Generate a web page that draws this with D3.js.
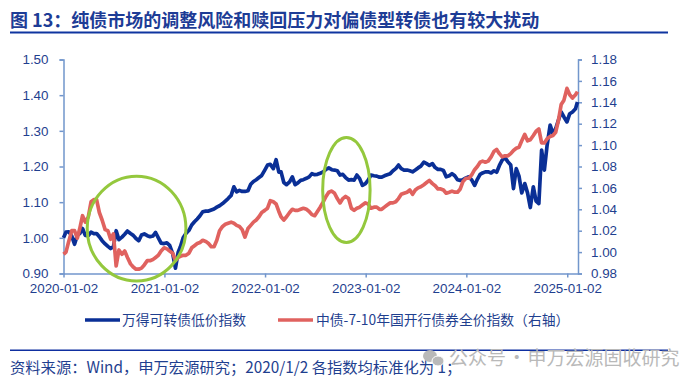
<!DOCTYPE html>
<html lang="zh">
<head>
<meta charset="UTF-8">
<title>图 13</title>
<script src="https://cdnjs.cloudflare.com/ajax/libs/d3/7.8.5/d3.min.js"></script>
<style>
    body { margin: 0; background: #fff; }
    svg { display: block; }
    .cjk { font-family: "Noto Sans CJK SC", sans-serif; }
    .tick text { font-family: "Liberation Sans", Arial, sans-serif; font-size: 13.4px; fill: #1f3f8f; }
    .axis path, .axis line { stroke: #7296cc; stroke-width: 1.5; }
</style>
</head>
<body>
<svg id="chart" width="700" height="386"></svg>
<script>
// Values, every ten days or so
const dates = [
"2020-01-02","2020-01-11","2020-01-21","2020-02-01","2020-02-11","2020-02-21","2020-03-01","2020-03-11","2020-03-21","2020-04-01","2020-04-11","2020-04-21",
"2020-05-01","2020-05-11","2020-05-21","2020-06-01","2020-06-11","2020-06-21","2020-07-01","2020-07-11","2020-07-21","2020-08-01","2020-08-11","2020-08-21",
"2020-09-01","2020-09-11","2020-09-21","2020-10-01","2020-10-11","2020-10-21","2020-11-01","2020-11-11","2020-11-21","2020-12-01","2020-12-11","2020-12-21",
"2021-01-01","2021-01-11","2021-01-21","2021-02-01","2021-02-11","2021-02-21","2021-03-01","2021-03-11","2021-03-21","2021-04-01","2021-04-11","2021-04-21",
"2021-05-01","2021-05-11","2021-05-21","2021-06-01","2021-06-11","2021-06-21","2021-07-01","2021-07-11","2021-07-21","2021-08-01","2021-08-11","2021-08-21",
"2021-09-01","2021-09-11","2021-09-21","2021-10-01","2021-10-11","2021-10-21","2021-11-01","2021-11-11","2021-11-21","2021-12-01","2021-12-11","2021-12-21",
"2022-01-01","2022-01-11","2022-01-21","2022-02-01","2022-02-11","2022-02-21","2022-03-01","2022-03-11","2022-03-21","2022-04-01","2022-04-11","2022-04-21",
"2022-05-01","2022-05-11","2022-05-21","2022-06-01","2022-06-11","2022-06-21","2022-07-01","2022-07-11","2022-07-21","2022-08-01","2022-08-11","2022-08-21",
"2022-09-01","2022-09-11","2022-09-21","2022-10-01","2022-10-11","2022-10-21","2022-11-01","2022-11-11","2022-11-21","2022-12-01","2022-12-11","2022-12-21",
"2023-01-01","2023-01-11","2023-01-21","2023-02-01","2023-02-11","2023-02-21","2023-03-01","2023-03-11","2023-03-21","2023-04-01","2023-04-11","2023-04-21",
"2023-05-01","2023-05-11","2023-05-21","2023-06-01","2023-06-11","2023-06-21","2023-07-01","2023-07-11","2023-07-21","2023-08-01","2023-08-11","2023-08-21",
"2023-09-01","2023-09-11","2023-09-21","2023-10-01","2023-10-11","2023-10-21","2023-11-01","2023-11-11","2023-11-21","2023-12-01","2023-12-11","2023-12-21",
"2024-01-01","2024-01-11","2024-01-21","2024-02-01","2024-02-11","2024-02-21","2024-03-01","2024-03-11","2024-03-21","2024-04-01","2024-04-11","2024-04-21",
"2024-05-01","2024-05-11","2024-05-21","2024-06-01","2024-06-11","2024-06-21","2024-07-01","2024-07-11","2024-07-21","2024-08-01","2024-08-11","2024-08-21",
"2024-09-01","2024-09-11","2024-09-21","2024-10-01","2024-10-11","2024-10-21","2024-11-01","2024-11-11","2024-11-21","2024-12-01","2024-12-11","2024-12-21",
"2025-01-01","2025-01-11","2025-01-21","2025-02-01","2025-02-08"
];

const lowPriceIndex = [
1.000,1.016,1.017,1.005,0.982,1.007,1.012,1.026,1.007,1.006,1.016,1.012,
1.012,1.003,0.992,0.983,0.976,0.970,0.975,1.020,0.995,1.002,1.010,1.019,
1.012,1.007,0.998,0.992,1.008,1.011,1.006,1.003,1.005,1.015,1.000,0.985,
0.984,0.986,0.979,0.956,0.915,0.960,0.975,1.000,1.012,1.021,1.036,1.045,
1.053,1.062,1.073,1.075,1.075,1.078,1.081,1.086,1.090,1.096,1.103,1.110,
1.119,1.143,1.129,1.133,1.130,1.130,1.132,1.150,1.158,1.163,1.169,1.175,
1.190,1.204,1.206,1.194,1.219,1.184,1.185,1.155,1.149,1.157,1.171,1.149,
1.154,1.161,1.163,1.167,1.171,1.180,1.177,1.178,1.181,1.185,1.192,1.196,
1.191,1.190,1.188,1.176,1.178,1.169,1.162,1.163,1.162,1.176,1.166,1.147,
1.152,1.162,1.176,1.174,1.173,1.170,1.170,1.174,1.177,1.180,1.188,1.194,
1.204,1.194,1.190,1.190,1.188,1.185,1.190,1.196,1.201,1.212,1.208,1.203,
1.208,1.197,1.192,1.192,1.189,1.171,1.174,1.180,1.174,1.163,1.161,1.163,
1.168,1.171,1.163,1.147,1.164,1.178,1.182,1.185,1.185,1.182,1.188,1.184,
1.203,1.218,1.225,1.213,1.204,1.138,1.194,1.173,1.126,1.152,1.126,1.085,
1.143,1.103,1.096,1.246,1.190,1.260,1.316,1.292,1.306,1.330,1.353,1.339,
1.325,1.348,1.353,1.362,1.381
];

const cdbIndex = [
0.998,1.000,1.010,1.020,1.020,1.013,1.022,1.034,1.028,1.033,1.047,1.049,
1.049,1.037,1.030,1.021,1.020,1.012,1.017,0.987,1.002,0.998,1.001,0.995,
0.989,0.986,0.984,0.984,0.985,0.988,0.992,0.992,0.993,0.995,0.997,1.001,
1.004,1.003,1.001,0.999,0.992,0.995,0.996,0.997,0.997,0.999,1.004,1.006,
1.008,1.009,1.011,1.010,1.008,1.005,1.005,1.011,1.020,1.024,1.026,1.027,
1.028,1.027,1.025,1.024,1.021,1.014,1.022,1.025,1.028,1.030,1.033,1.037,
1.039,1.041,1.048,1.047,1.045,1.038,1.033,1.030,1.033,1.037,1.040,1.039,
1.039,1.040,1.041,1.040,1.038,1.035,1.034,1.038,1.042,1.047,1.052,1.056,
1.057,1.055,1.050,1.046,1.050,1.052,1.050,1.041,1.039,1.041,1.042,1.044,
1.046,1.045,1.041,1.042,1.042,1.040,1.040,1.042,1.044,1.046,1.046,1.047,
1.050,1.054,1.055,1.056,1.058,1.054,1.058,1.060,1.061,1.063,1.065,1.067,
1.064,1.062,1.059,1.059,1.058,1.055,1.056,1.057,1.056,1.056,1.059,1.066,
1.069,1.069,1.072,1.077,1.080,1.084,1.085,1.084,1.085,1.089,1.094,1.096,
1.092,1.089,1.090,1.090,1.092,1.095,1.097,1.098,1.104,1.110,1.104,1.105,
1.109,1.113,1.115,1.102,1.102,1.106,1.108,1.109,1.112,1.123,1.138,1.142,
1.153,1.147,1.144,1.147,1.150
];

const leftTicks = [0.9, 1.0, 1.1, 1.2, 1.3, 1.4, 1.5];
const rightTicks = [0.98, 1.0, 1.02, 1.04, 1.06, 1.08, 1.1, 1.12, 1.14, 1.16, 1.18];
const xTicks = ["2020-01-02", "2021-01-02", "2022-01-02", "2023-01-02", "2024-01-02", "2025-01-02"];

// Hand-drawn green rings, as date span and left-axis value span
const ringDates = [["2020-03-28", "2021-03-21"], ["2022-07-30", "2023-01-18"]];
const ringValues = [[0.879, 1.173], [0.987, 1.281]];

const titleText = "图 13：纯债市场的调整风险和赎回压力对偏债型转债也有较大扰动";
const lowPriceName = "万得可转债低价指数";
const cdbName = "中债-7-10年国开行债券全价指数（右轴）";
const sourceText = "资料来源：Wind，申万宏源研究；2020/1/2 各指数均标准化为 1；";
const watermarkText = "公众号 · 申万宏源固收研究";

const BLUE = "#0a2f96";
const RED = "#e0625f";
const GREEN = "#94c83d";
const NAVY = "#1f3f8f";

const parseDate = d3.timeParse("%Y-%m-%d");
const svg = d3.select("#chart");

// Plot area
const plotLeft = 63.5, plotRight = 578, plotTop = 59.5, plotBottom = 273.5;

const x = d3.scaleTime()
    .domain([parseDate("2020-01-02"), parseDate("2025-02-10")])
    .range([plotLeft, plotRight]);
const yLeft = d3.scaleLinear().domain([0.9, 1.5]).range([plotBottom, plotTop]);
const yRight = d3.scaleLinear().domain([0.98, 1.18]).range([plotBottom, plotTop]);

// Title and rules
svg.append("text").attr("class", "cjk")
    .attr("x", 10).attr("y", 27)
    .attr("font-size", 18).attr("font-weight", 700)
    .attr("fill", "#1d3c96")
    .text(titleText);
svg.append("rect").attr("x", 10).attr("y", 31.5).attr("width", 658).attr("height", 2).attr("fill", "#0f35a0");
svg.append("rect").attr("x", 10).attr("y", 349.5).attr("width", 658).attr("height", 1.5).attr("fill", "#0f2fa0");

// Axes
svg.append("g").attr("class", "axis")
    .attr("transform", `translate(${plotLeft},0)`)
    .call(d3.axisLeft(yLeft).tickValues(leftTicks).tickFormat(d3.format(".2f")).tickSize(4).tickPadding(11));
svg.append("g").attr("class", "axis")
    .attr("transform", `translate(${plotRight},0)`)
    .call(d3.axisRight(yRight).tickValues(rightTicks).tickFormat(d3.format(".2f")).tickSize(4).tickPadding(9));
svg.append("g").attr("class", "axis")
    .attr("transform", `translate(0,${plotBottom})`)
    .call(d3.axisBottom(x).tickValues(xTicks.map(parseDate)).tickFormat(d3.timeFormat("%Y-%m-%d")).tickSize(4).tickSizeOuter(0).tickPadding(6));

// Lines
const lineLeft = d3.line().x((d, i) => x(parseDate(dates[i]))).y(d => yLeft(d));
const lineRight = d3.line().x((d, i) => x(parseDate(dates[i]))).y(d => yRight(d));

svg.append("path").datum(lowPriceIndex)
    .attr("d", lineLeft).attr("fill", "none")
    .attr("stroke", BLUE).attr("stroke-width", 3.7).attr("stroke-linejoin", "round");
svg.append("path").datum(cdbIndex)
    .attr("d", lineRight).attr("fill", "none")
    .attr("stroke", RED).attr("stroke-width", 3.7).attr("stroke-linejoin", "round");

// Rings
ringDates.forEach((span, i) => {
    const x0 = x(parseDate(span[0])), x1 = x(parseDate(span[1]));
    const y0 = yLeft(ringValues[i][1]), y1 = yLeft(ringValues[i][0]);
    svg.append("ellipse")
        .attr("cx", (x0 + x1) / 2).attr("cy", (y0 + y1) / 2)
        .attr("rx", (x1 - x0) / 2).attr("ry", (y1 - y0) / 2)
        .attr("fill", "none").attr("stroke", GREEN).attr("stroke-width", 3);
});

// Legend
const legendY = 320;
[[85, 120, BLUE, lowPriceName, 122], [278, 313, RED, cdbName, 316]].forEach(d => {
    svg.append("line")
        .attr("x1", d[0]).attr("x2", d[1]).attr("y1", legendY).attr("y2", legendY)
        .attr("stroke", d[2]).attr("stroke-width", 3.4);
    svg.append("text").attr("class", "cjk")
        .attr("x", d[4]).attr("y", legendY + 5)
        .attr("font-size", 13.8).attr("fill", NAVY)
        .text(d[3]);
});

// Source note
svg.append("text").attr("class", "cjk")
    .attr("x", 10).attr("y", 373)
    .attr("font-size", 15.3).attr("fill", NAVY)
    .text(sourceText);

// Watermark
const mark = svg.append("g").attr("fill", "#b9b9b9");
mark.append("ellipse").attr("cx", 430).attr("cy", 356).attr("rx", 7).attr("ry", 6);
mark.append("ellipse").attr("cx", 438).attr("cy", 361).attr("rx", 6).attr("ry", 5).attr("stroke", "#fff");
mark.append("text").attr("class", "cjk")
    .attr("x", 449).attr("y", 365)
    .attr("font-size", 19).attr("word-spacing", -3)
    .text(watermarkText);
</script>
</body>
</html>
